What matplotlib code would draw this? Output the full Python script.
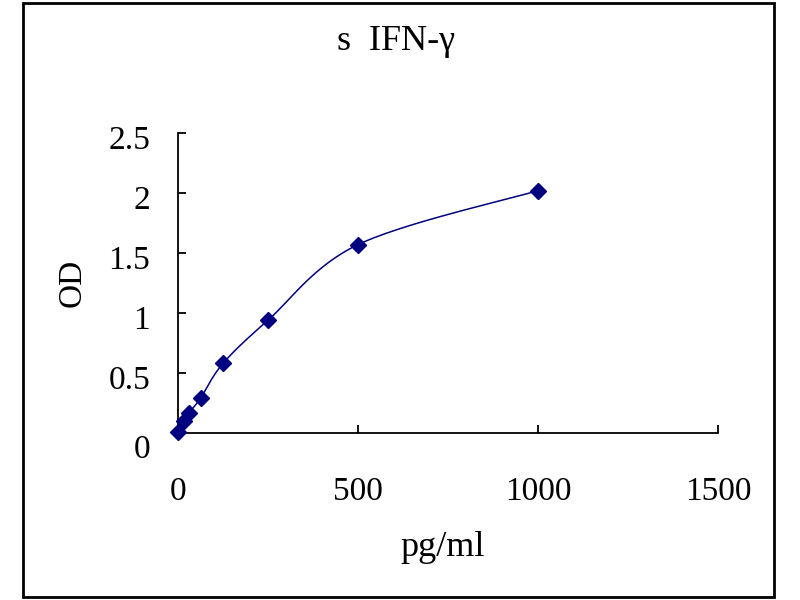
import numpy as np
import matplotlib.pyplot as plt
import matplotlib.transforms as mtransforms
from matplotlib.patches import Rectangle

# standard curve points
conc = [0, 15.6, 31.25, 62.5, 125, 250, 500, 1000]
od = [0.01, 0.10, 0.17, 0.29, 0.58, 0.94, 1.57, 2.02]

title = "s  IFN-\u03b3"
x_ticks = [0, 500, 1000, 1500]
y_ticks = [0, 0.5, 1, 1.5, 2, 2.5]
y_tick_labels = ["0", "0.5", "1", "1.5", "2", "2.5"]

navy = "#000080"
font = "Liberation Serif"


def smooth_curve(ax, xs, ys, n=30):
    """Excel-like smoothed line: Catmull-Rom style Bezier in screen space."""
    xlim, ylim = ax.get_xlim(), ax.get_ylim()
    bbox = ax.get_position()
    fw, fh = ax.figure.get_size_inches()
    sx = bbox.width * fw / (xlim[1] - xlim[0])
    sy = bbox.height * fh / (ylim[1] - ylim[0])
    p = np.column_stack([np.asarray(xs) * sx, np.asarray(ys) * sy])
    out = []
    t = np.linspace(0, 1, n)[:, None]
    for i in range(len(p) - 1):
        p0 = p[i - 1] if i > 0 else p[i]
        p3 = p[i + 2] if i + 2 < len(p) else p[i + 1]
        p1, p2 = p[i], p[i + 1]
        c1 = p1 + (p2 - p0) / 6
        c2 = p2 - (p3 - p1) / 6
        seg = ((1 - t) ** 3) * p1 + 3 * ((1 - t) ** 2) * t * c1 \
            + 3 * (1 - t) * t ** 2 * c2 + t ** 3 * p2
        out.append(seg)
    out = np.vstack(out)
    return out[:, 0] / sx, out[:, 1] / sy


fig = plt.figure(figsize=(8, 6), dpi=100)
ax = fig.add_axes([0.2225, 0.2783, 0.675, 0.5])
ax.set_xlim(0, 1500)
ax.set_ylim(0, 2.5)

cx, cy = smooth_curve(ax, conc, od)
ax.plot(cx, cy, color=navy, lw=1.1, clip_on=False)
ax.plot(conc, od, linestyle="none", marker="D", markersize=8,
        color=navy, clip_on=False, zorder=3)

for s in ["top", "right"]:
    ax.spines[s].set_visible(False)
for s in ["left", "bottom"]:
    ax.spines[s].set_linewidth(1.3)

ax.set_xticks(x_ticks)
ax.set_yticks(y_ticks)
ax.set_yticklabels(y_tick_labels)
ax.tick_params(direction="in", length=6, width=1.3, labelsize=24,
               labelfontfamily=font)
ax.tick_params(axis="x", pad=31)
ax.tick_params(axis="y", pad=20)

# labels sit a little below their ticks, the zero one even more
for lab, v in zip(ax.get_yticklabels(), y_ticks):
    shift = -13 if v == 0 else -4
    lab.set_transform(lab.get_transform() + mtransforms.ScaledTranslation(
        0, shift / 100, fig.dpi_scale_trans))

fig.text(396 / 800, 1 - 42 / 600, title, ha="center", va="center",
         fontsize=26, family=font)
fig.text(443 / 800, 1 - 548 / 600, "pg/ml", ha="center", va="center",
         fontsize=26, family=font)
fig.text(72 / 800, 1 - 283 / 600, "OD", ha="center", va="center",
         fontsize=24, family=font, rotation=90)

fig.patches.append(Rectangle((23 / 800, 3 / 600), 751 / 800, 594 / 600,
                             transform=fig.transFigure, fill=False,
                             edgecolor="black", lw=2))

fig.savefig("out.png", dpi=100)
